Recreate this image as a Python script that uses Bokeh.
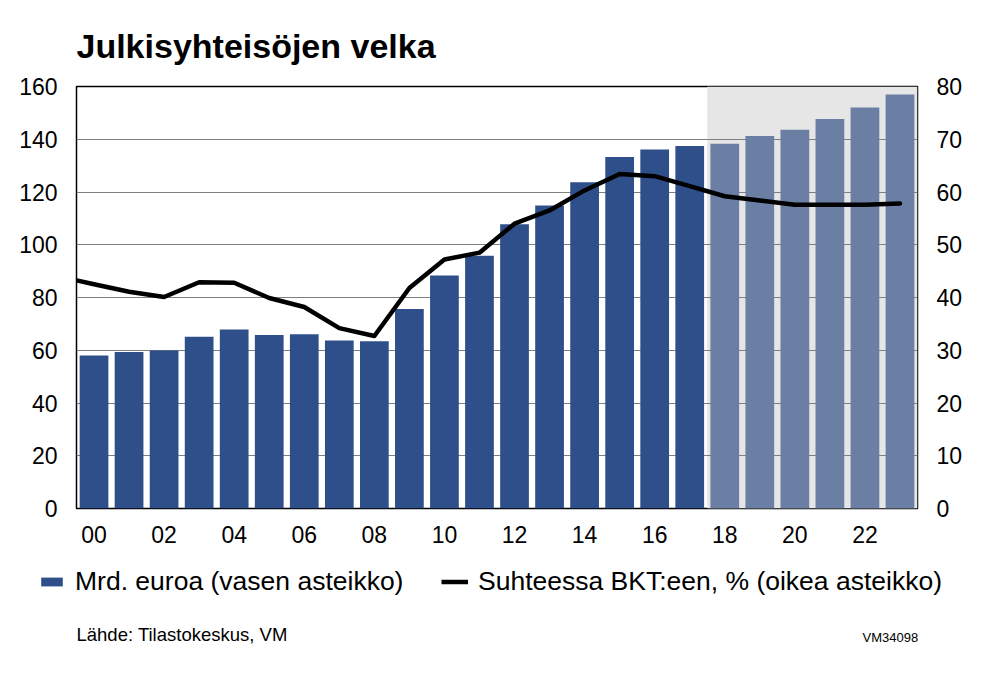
from bokeh.plotting import figure
from bokeh.layouts import column
from bokeh.models import (Range1d, LinearAxis, FixedTicker, Label, Legend,
                          LegendItem, BoxAnnotation)
from bokeh.embed import file_html
from bokeh.resources import INLINE

# ---------------- data ----------------
years = list(range(2000, 2024))
debt_bn = [58.0, 59.3, 59.9, 65.1, 67.9, 65.8, 66.1, 63.7, 63.4, 75.6,
           88.3, 95.8, 107.8, 114.9, 123.7, 133.3, 136.1, 137.4,
           138.3, 141.2, 143.6, 147.7, 152.0, 157.0]
ratio_years = list(range(1999, 2024))
ratio_pct = [44.0, 42.5, 41.1, 40.1, 42.9, 42.8, 39.9, 38.2, 34.2, 32.7,
             41.8, 47.2, 48.5, 54.0, 56.5, 60.3, 63.4, 63.0, 61.1,
             59.2, 58.4, 57.6, 57.6, 57.6, 57.8]
forecast_start = 2018

left_ticks = [0, 20, 40, 60, 80, 100, 120, 140, 160]
right_ticks = [0, 10, 20, 30, 40, 50, 60, 70, 80]
x_tick_years = [2000, 2002, 2004, 2006, 2008, 2010, 2012, 2014, 2016, 2018, 2020, 2022]
x_tick_labels = ["00", "02", "04", "06", "08", "10", "12", "14", "16", "18", "20", "22"]

title_text = "Julkisyhteisöjen velka"
legend_bar = "Mrd. euroa (vasen asteikko)"
legend_line = "Suhteessa BKT:een, % (oikea asteikko)"
source_text = "Lähde: Tilastokeskus, VM"
code_text = "VM34098"

# ---------------- styling ----------------
FONT = "Liberation Sans"
HIST_COLOR = "#2f4f8b"
FC_COLOR = "#6b7ea3"
SHADE = "#e6e6e6"

W = 990
TOP_H = 72
MAIN_TOP, FRAME_H, MAIN_BOTTOM = 14, 422, 40
BOT_H = 110


def blank_fig(height):
    f = figure(width=W, height=height, x_range=Range1d(0, W), y_range=Range1d(0, height),
               output_backend="svg", toolbar_location=None,
               x_axis_type=None, y_axis_type=None, frame_align=False,
               min_border_left=0, min_border_right=0, min_border_top=0, min_border_bottom=0)
    f.title.visible = False
    f.outline_line_color = None
    f.xgrid.visible = False
    f.ygrid.visible = False
    f.background_fill_color = "white"
    f.border_fill_color = "white"
    return f


# ---------------- title strip ----------------
top = blank_fig(TOP_H)
top.add_layout(Label(x=76, y=TOP_H - 45, text=title_text,
                     text_font=FONT, text_font_size="34px", text_font_style="bold",
                     text_baseline="alphabetic", text_color="black"))

# ---------------- main chart ----------------
p = figure(width=W, height=MAIN_TOP + FRAME_H + MAIN_BOTTOM,
           x_range=Range1d(years[0] - 0.5, years[-1] + 0.5),
           y_range=Range1d(left_ticks[0], left_ticks[-1]),
           output_backend="svg", toolbar_location=None, frame_align=False,
           min_border_left=76, min_border_right=W - 76 - 841,
           min_border_top=MAIN_TOP, min_border_bottom=MAIN_BOTTOM)
p.title.visible = False
p.extra_y_ranges = {"pct": Range1d(right_ticks[0], right_ticks[-1])}
p.outline_line_color = "black"
p.outline_line_width = 1.5
p.background_fill_color = "white"
p.border_fill_color = "white"

shade = BoxAnnotation(left=forecast_start - 0.5, fill_color=SHADE, fill_alpha=1.0,
                      line_color=None, level="image")
p.add_layout(shade)

p.xgrid.visible = False
p.ygrid.ticker = FixedTicker(ticks=left_ticks)
p.ygrid.grid_line_color = "#7f7f7f"
p.ygrid.grid_line_width = 1

p.xaxis.ticker = FixedTicker(ticks=x_tick_years)
p.xaxis.major_label_overrides = dict(zip(x_tick_years, x_tick_labels))
p.yaxis.ticker = FixedTicker(ticks=left_ticks)
right_axis = LinearAxis(y_range_name="pct", ticker=FixedTicker(ticks=right_ticks))
p.add_layout(right_axis, "right")

for ax in [p.xaxis[0], p.yaxis[0], right_axis]:
    ax.axis_line_color = None
    ax.major_tick_line_color = None
    ax.minor_tick_line_color = None
    ax.major_tick_out = 0
    ax.major_tick_in = 0
    ax.major_label_text_font = FONT
    ax.major_label_text_font_size = "23px"
    ax.major_label_text_color = "black"
p.yaxis[0].major_label_standoff = 19
right_axis.major_label_standoff = 19
p.xaxis[0].major_label_standoff = 17

hist_x = [y for y in years if y < forecast_start]
hist_v = [v for y, v in zip(years, debt_bn) if y < forecast_start]
fc_x = [y for y in years if y >= forecast_start]
fc_v = [v for y, v in zip(years, debt_bn) if y >= forecast_start]

BAR_W = 0.82
p.vbar(x=hist_x, top=hist_v, width=BAR_W, fill_color=HIST_COLOR, line_color=None)
p.vbar(x=fc_x, top=fc_v, width=BAR_W, fill_color=FC_COLOR, line_color=None)
p.line(ratio_years, ratio_pct, y_range_name="pct", line_color="black",
       line_width=4.5, line_join="round", line_cap="round")

# ---------------- legend + source strip ----------------
bot = blank_fig(BOT_H)
# off-screen key renderers (only used to draw the legend swatches)
bar_key = bot.vbar(x=[-100], top=[0], width=1, fill_color=HIST_COLOR, line_color=None)
line_key = bot.line(x=[-100, -99], y=[0, 0], line_color="black", line_width=4.5)


def make_legend(label, rend, loc):
    return Legend(items=[LegendItem(label=label, renderers=[rend])],
                  location=loc, orientation="horizontal", padding=0, margin=0,
                  border_line_color=None, background_fill_alpha=0,
                  glyph_width=27, glyph_height=11, label_standoff=10,
                  label_text_font=FONT, label_text_font_size="26.5px",
                  label_text_color="black")


LEG_Y = BOT_H - 34 - 15
bot.add_layout(make_legend(legend_bar, bar_key, (38, LEG_Y)))
bot.add_layout(make_legend(legend_line, line_key, (441, LEG_Y)))

bot.add_layout(Label(x=76, y=BOT_H - 86, text=source_text,
                     text_font=FONT, text_font_size="18.5px",
                     text_baseline="alphabetic", text_color="black"))
bot.add_layout(Label(x=862, y=BOT_H - 89, text=code_text,
                     text_font=FONT, text_font_size="13px",
                     text_baseline="alphabetic", text_color="black"))

layout = column(top, p, bot, spacing=0)

with open("out.html", "w", encoding="utf-8") as f:
    f.write(file_html(layout, INLINE))
